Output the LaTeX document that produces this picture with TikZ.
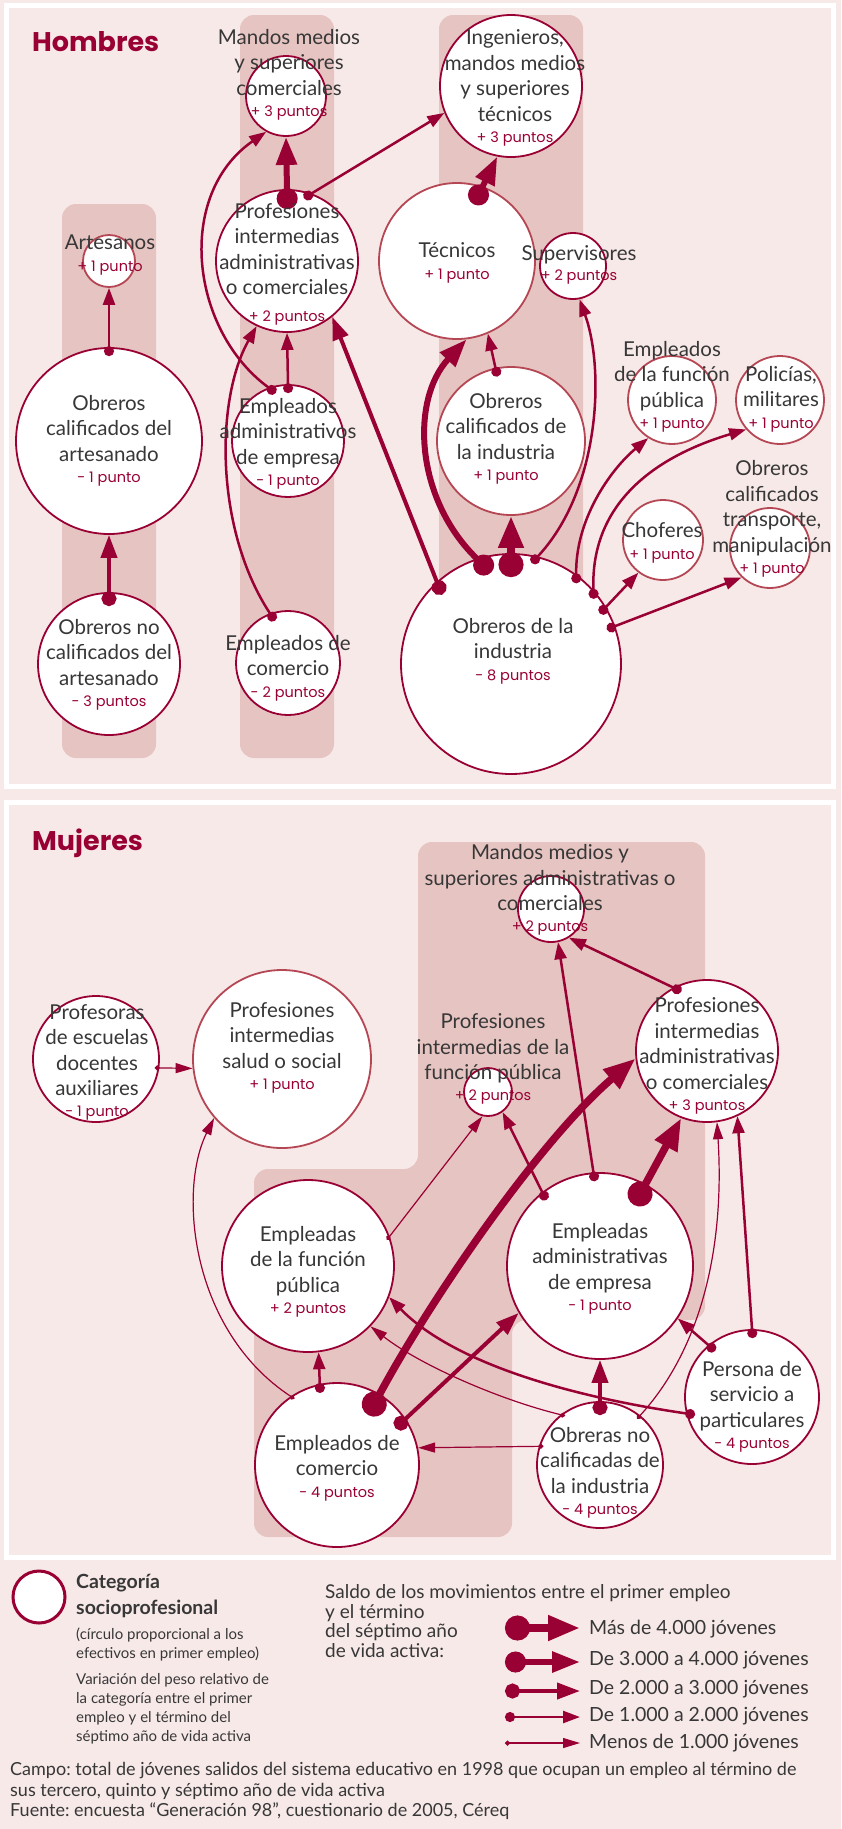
\documentclass[tikz,border=0pt]{standalone}
\usepackage{fontspec}
\setmainfont{Lato}
\newfontfamily\ptsfont{Poppins}
\usetikzlibrary{arrows.meta}
\frenchspacing

\definecolor{burg}{RGB}{153,0,51}
\definecolor{burgl}{RGB}{181,70,84}
\definecolor{bgpink}{RGB}{248,233,233}
\definecolor{colshade}{RGB}{230,196,193}
\definecolor{txtgray}{RGB}{55,55,55}
\newcommand\pts[1]{{\ptsfont\fontsize{14.5}{16}\selectfont\color{burg}#1}}

\begin{document}
\begin{tikzpicture}[x=1pt,y=-1pt,
  cat/.style={circle,draw=burg,fill=white,line width=1.8pt,inner sep=0pt},
  catl/.style={cat,draw=burgl},
  lbl/.style={align=center,text=txtgray,inner sep=0pt,font=\fontsize{20.5}{25.5}\selectfont},
  lgtxt/.style={anchor=west,align=left,text=txtgray,inner sep=0pt},
  flowA/.style={draw=burg,line width=7.5pt,shorten <=-24pt,arrows={Circle[length=25pt]-Triangle[length=32pt,width=24pt]}},
  flowB/.style={draw=burg,line width=6pt,shorten <=-20pt,arrows={Circle[length=21pt]-Triangle[length=28pt,width=20pt]}},
  flowC/.style={draw=burg,line width=4pt,shorten <=-14pt,arrows={Circle[length=15pt]-Triangle[length=23pt,width=16pt]}},
  flowD/.style={draw=burg,line width=2.5pt,shorten <=-9pt,arrows={Circle[length=10pt]-Triangle[length=17pt,width=12pt]}},
  flowE/.style={draw=burg,line width=1.2pt,shorten <=-4.5pt,arrows={Circle[length=5pt]-Triangle[length=17pt,width=10pt]}}]
\useasboundingbox (0,0) rectangle (841,1829);
\fill[bgpink] (0,0) rectangle (841,1829);
% columnas sombreadas
\fill[colshade,rounded corners=14pt] (62,204) rectangle (156,758);
\fill[colshade,rounded corners=14pt] (240,15) rectangle (334,758);
\fill[colshade,rounded corners=14pt] (439,15) rectangle (583,600);
\fill[colshade,rounded corners=14pt] (418,842) -- (705,842) -- (705,1320) -- (512,1320)
  -- (512,1537) -- (254,1537) -- (254,1169) -- (418,1169) -- cycle;
% marcos
\draw[white,line width=5pt] (6,5) rectangle (833,786);
\draw[white,line width=5pt] (6,802) rectangle (833,1557);
\node[anchor=base west,inner sep=0pt,text=burg,font=\ptsfont\bfseries\fontsize{27}{30}\selectfont] (tith) at (32,51) {Hombres};
\node[anchor=base west,inner sep=0pt,text=burg,font=\ptsfont\bfseries\fontsize{27}{30}\selectfont] (titm) at (32,850) {Mujeres};

% Hombres: categorias
\node[catl,minimum size=52pt] (art) at (109,261) {};
\node[cat,minimum size=186pt] (oca) at (109,441) {};
\node[cat,minimum size=142pt] (onca) at (109,664) {};
\node[cat,minimum size=80pt] (mcom) at (286,96) {};
\node[cat,minimum size=142pt] (picH) at (287,261) {};
\node[cat,minimum size=142pt] (ing) at (511,86) {};
\node[catl,minimum size=156pt] (tec) at (457,261) {};
\node[cat,minimum size=66pt] (sup) at (573,266) {};
\node[cat,minimum size=112pt] (eadH) at (288,441) {};
\node[cat,minimum size=104pt] (ecomH) at (288,663) {};
\node[catl,minimum size=148pt] (ocind) at (511,441) {};
\node[cat,minimum size=220pt] (oind) at (511,664) {};
\node[catl,minimum size=88pt] (efpH) at (672,400) {};
\node[catl,minimum size=88pt] (pol) at (780,400) {};
\node[catl,minimum size=80pt] (chof) at (663,540) {};
\node[catl,minimum size=80pt] (octr) at (770,548) {};

% Hombres: movimientos
\draw[flowC] (onca.90) -- (oca.270);
\draw[flowD] (oca.90) -- (art.270);
\draw[flowB] (picH.90) -- (mcom.270);
\draw[flowD] (picH.70) -- (ing.202);
\draw[flowD] (eadH.90) -- (picH.270);
\draw[flowD] (eadH.110) .. controls (190,330) and (175,195) .. (mcom.241);
\draw[flowD] (ecomH.110) .. controls (215,530) and (215,400) .. (picH.245);
\draw[flowC] (oind.132) -- (picH.309);
\draw[flowB] (tec.71) -- (ing.259);
\draw[flowD] (ocind.102) -- (tec.293);
\draw[flowB] (oind.108) .. controls (415,500) and (410,400) .. (tec.277);
\draw[flowA] (oind.90) -- (ocind.270);
\draw[flowD] (oind.76) .. controls (600,490) and (605,370) .. (sup.281);
\draw[flowD] (oind.54) .. controls (575,520) and (610,470) .. (efpH.238);
\draw[flowD] (oind.42) .. controls (590,500) and (660,455) .. (pol.221);
\draw[flowD] (oind.31) -- (chof.233);
\draw[flowD] (oind.20) -- (octr.226);

% Hombres: textos
\node[lbl] (art-t) at (110,255) {Artesanos\\[-4pt]\pts{+ 1 punto}};
\node[lbl] (oca-t) at (109,441) {Obreros\\calificados del\\artesanado\\[-4pt]\pts{- 1 punto}};
\node[lbl] (onca-t) at (109,665) {Obreros no\\calificados del\\artesanado\\[-4pt]\pts{- 3 puntos}};
\node[lbl] (mcom-t) at (289,75) {Mandos medios\\y superiores\\comerciales\\[-4pt]\pts{+ 3 puntos}};
\node[lbl] (picH-t) at (287,264) {Profesiones\\intermedias\\administrativas\\o comerciales\\[1pt]\pts{+ 2 puntos}};
\node[lbl] (ing-t) at (515,88) {Ingenieros,\\mandos medios\\y superiores\\técnicos\\[-4pt]\pts{+ 3 puntos}};
\node[lbl] (tec-t) at (457,263) {Técnicos\\[-4pt]\pts{+ 1 punto}};
\node[lbl] (sup-t) at (579,265) {Supervisores\\[-5pt]\pts{+ 2 puntos}};
\node[lbl] (eadH-t) at (288,444) {Empleados\\administrativos\\de empresa\\[-4pt]\pts{- 1 punto}};
\node[lbl] (ecomH-t) at (288,668) {Empleados de\\comercio\\[-4pt]\pts{- 2 puntos}};
\node[lbl] (ocind-t) at (506,439) {Obreros\\calificados de\\la industria\\[-4pt]\pts{+ 1 punto}};
\node[lbl] (oind-t) at (513,651) {Obreros de la\\industria\\[-4pt]\pts{- 8 puntos}};
\node[lbl] (efpH-t) at (672,387) {Empleados\\de la función\\pública\\[-4pt]\pts{+ 1 punto}};
\node[lbl] (pol-t) at (781,399) {Policías,\\militares\\[-4pt]\pts{+ 1 punto}};
\node[lbl] (chof-t) at (662,543) {Choferes\\[-4pt]\pts{+ 1 punto}};
\node[lbl] (octr-t) at (772,519) {Obreros\\calificados\\transporte,\\manipulación\\[-4pt]\pts{+ 1 punto}};

% Mujeres: categorias
\node[cat,minimum size=126pt] (prof) at (96,1059) {};
\node[catl,minimum size=178pt] (psal) at (282,1059) {};
\node[cat,minimum size=66pt] (mcadm) at (551,909) {};
\node[cat,minimum size=48pt] (pfp) at (488,1092) {};
\node[cat,minimum size=142pt] (padm) at (707,1051) {};
\node[cat,minimum size=172pt] (efpM) at (308,1266) {};
\node[cat,minimum size=186pt] (eadM) at (600,1266) {};
\node[cat,minimum size=134pt] (serv) at (752,1397) {};
\node[cat,minimum size=126pt] (obr) at (600,1465) {};
\node[cat,minimum size=164pt] (ecomM) at (337,1465) {};

% Mujeres: movimientos
\draw[flowA] (ecomM.59) .. controls (430,1300) and (540,1140) .. (padm.186);
\draw[flowC] (ecomM.34) -- (eadM.210);
\draw[flowD] (ecomM.102) -- (efpM.277);
\draw[flowE] (ecomM.124) .. controls (190,1330) and (178,1190) .. (psal.221);
\draw[flowE] (obr.163) -- (ecomM.12);
\draw[flowC] (obr.90) -- (eadM.270);
\draw[flowE] (obr.128) .. controls (500,1400) and (420,1365) .. (efpM.316);
\draw[flowE] (obr.51) .. controls (700,1350) and (725,1250) .. (padm.278);
\draw[flowD] (serv.194) .. controls (560,1395) and (450,1360) .. (efpM.339);
\draw[flowD] (serv.130) -- (eadM.326);
\draw[flowD] (serv.90) -- (padm.295);
\draw[flowD] (eadM.94) -- (mcadm.282);
\draw[flowA] (eadM.61) -- (padm.249);
\draw[flowD] (eadM.128) -- (pfp.306);
\draw[flowD] (padm.118) -- (mcadm.302);
\draw[flowE] (efpM.20) -- (pfp.257);
\draw[flowE] (prof.352) -- (psal.186);

% Mujeres: textos
\node[lbl] (prof-t) at (97,1062) {Profesoras\\de escuelas\\docentes\\auxiliares\\[-5pt]\pts{- 1 punto}};
\node[lbl] (psal-t) at (282,1048) {Profesiones\\intermedias\\salud o social\\[-4pt]\pts{+ 1 punto}};
\node[lbl] (mcadm-t) at (550,890) {Mandos medios y\\superiores administrativas o\\comerciales\\[-5pt]\pts{+ 2 puntos}};
\node[lbl] (pfp-t) at (493,1059) {Profesiones\\intermedias de la\\función pública\\[-5pt]\pts{+ 2 puntos}};
\node[lbl] (padm-t) at (707,1056) {Profesiones\\intermedias\\administrativas\\o comerciales\\[-4pt]\pts{+ 3 puntos}};
\node[lbl] (efpM-t) at (308,1272) {Empleadas\\de la función\\pública\\[-4pt]\pts{+ 2 puntos}};
\node[lbl] (eadM-t) at (600,1269) {Empleadas\\administrativas\\de empresa\\[-4pt]\pts{- 1 punto}};
\node[lbl] (serv-t) at (752,1407) {Persona de\\servicio a\\particulares\\[-4pt]\pts{- 4 puntos}};
\node[lbl] (obr-t) at (600,1473) {Obreras no\\calificadas de\\la industria\\[-4pt]\pts{- 4 puntos}};
\node[lbl] (ecomM-t) at (337,1468) {Empleados de\\comercio\\[-4pt]\pts{- 4 puntos}};

% leyenda
\node[cat,line width=3pt,minimum size=52pt] (lgcat) at (39,1597) {};
\node[lgtxt,font=\bfseries\fontsize{19.5}{26}\selectfont] (lgtit) at (76,1596) {Categoría\\socioprofesional};
\node[lgtxt,font=\fontsize{15}{19}\selectfont] (lgsub) at (76,1644) {(círculo proporcional a los\\efectivos en primer empleo)};
\node[lgtxt,font=\fontsize{15}{19}\selectfont] (lgvar) at (76,1709) {Variación del peso relativo de\\la categoría entre el primer\\empleo y el término del\\séptimo año de vida activa};
\node[lgtxt,font=\fontsize{19}{19.5}\selectfont] (lgsal) at (325,1621) {Saldo de los movimientos entre el primer empleo\\y el término\\del séptimo año\\de vida activa:};
\coordinate (lgAs) at (529,1628); \coordinate (lgAe) at (580,1628);
\coordinate (lgBs) at (525,1662); \coordinate (lgBe) at (580,1662);
\coordinate (lgCs) at (519,1691); \coordinate (lgCe) at (580,1691);
\coordinate (lgDs) at (514,1717); \coordinate (lgDe) at (580,1717);
\coordinate (lgEs) at (509.5,1743); \coordinate (lgEe) at (580,1743);
\draw[flowA] (lgAs) -- (lgAe);
\draw[flowB] (lgBs) -- (lgBe);
\draw[flowC] (lgCs) -- (lgCe);
\draw[flowD] (lgDs) -- (lgDe);
\draw[flowE] (lgEs) -- (lgEe);
\node[lgtxt,font=\fontsize{19.5}{20}\selectfont] (lgAt) at (589,1629) {Más de 4.000 jóvenes};
\node[lgtxt,font=\fontsize{19.5}{20}\selectfont] (lgBt) at (589,1660) {De 3.000 a 4.000 jóvenes};
\node[lgtxt,font=\fontsize{19.5}{20}\selectfont] (lgCt) at (589,1689) {De 2.000 a 3.000 jóvenes};
\node[lgtxt,font=\fontsize{19.5}{20}\selectfont] (lgDt) at (589,1716) {De 1.000 a 2.000 jóvenes};
\node[lgtxt,font=\fontsize{19.5}{20}\selectfont] (lgEt) at (589,1743) {Menos de 1.000 jóvenes};
% pie
\node[lgtxt,font=\fontsize{18}{20.5}\selectfont] (foot) at (10,1791) {Campo: total de jóvenes salidos del sistema educativo en 1998 que ocupan un empleo al término de\\sus tercero, quinto y séptimo año de vida activa\\Fuente: encuesta “Generación 98”, cuestionario de 2005, Céreq};
\end{tikzpicture}
\end{document}
